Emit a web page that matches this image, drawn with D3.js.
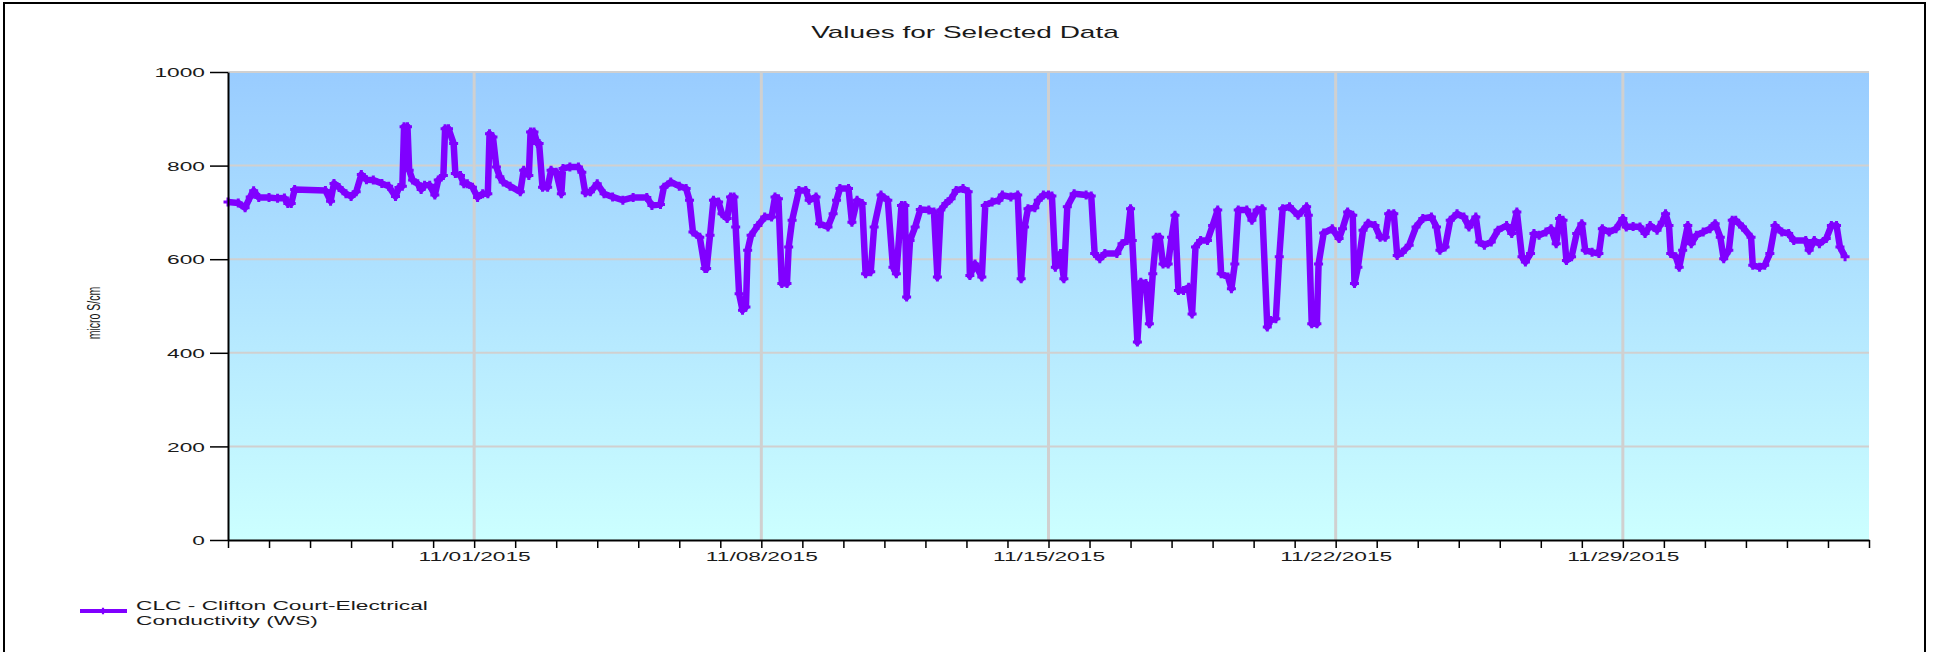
<!DOCTYPE html>
<html>
<head>
<meta charset="utf-8">
<script src="https://cdn.jsdelivr.net/npm/d3@7"></script>
<style>
	body { margin: 0; background: #fff; }
	text { font-family: "Liberation Sans", Arial, sans-serif; fill: #1a1a1a; }
</style>
</head>
<body>
<div id="vis"></div>
<script>
// Chart data
var title = 'Values for Selected Data';
var yLabel = 'micro S/cm';
var seriesName = ['CLC - Clifton Court-Electrical', 'Conductivity (WS)'];
var startDate = Date.UTC(2015, 9, 26);   // 10/26/2015
var endDate = Date.UTC(2015, 11, 5);     // 12/05/2015
var yTicks = [0, 200, 400, 600, 800, 1000];

// hours after 10/26/2015 00:00
var hours = [0, 6, 10, 13, 15, 18, 24, 29, 33, 35, 37, 39, 57, 60, 62, 65, 69, 72, 75, 78, 81, 85, 90, 94, 98, 100, 102, 103, 105, 106, 108, 111, 113, 115, 118, 121, 123, 126, 127, 129, 132, 133, 136, 138, 140, 143, 146, 149, 152, 153, 155, 157,
	159, 161, 165, 171, 173, 176, 177, 179, 181, 182, 184, 187, 189, 192, 195, 196, 200, 205, 207, 209, 212, 216, 220, 225, 231, 237, 245, 248, 253, 255, 259, 264, 268, 270, 272, 276, 279, 280, 282, 284, 287, 289, 292, 294, 296, 297, 299, 301, 303, 304, 306, 310, 314, 318,
	320, 322, 324, 327, 328, 330, 334, 338, 340, 344, 346, 351, 354, 356, 358, 363, 365, 368, 371, 373, 376, 378, 382, 386, 389, 391, 394, 396, 397, 399, 402, 405, 410, 413, 415, 417, 420, 423, 426, 430, 433, 434, 437, 441, 443, 447, 451, 453, 458, 462, 464, 466, 468, 472, 474, 477, 480, 482,
	484, 487, 489, 491, 495, 502, 505, 507, 510, 513, 520, 523, 526, 528, 529, 532, 534, 537, 539, 541, 543, 545, 547, 550, 552, 554, 556, 559, 562, 564, 566, 569, 573, 576, 579, 581, 585, 587, 589, 591, 596, 599, 602, 605, 608, 610, 613, 615, 617, 621, 626, 631, 632, 634, 637, 638, 641,
	646, 650, 652, 655, 658, 659, 661, 664, 667, 671, 674, 677, 679, 682, 684, 687, 691, 695, 699, 704, 707, 709, 712, 715, 719, 723, 726, 730, 732, 735, 739, 743, 748, 751, 754, 757, 759, 762, 764, 767, 771, 774, 777, 779, 781, 783, 786, 789, 792, 794, 798, 802,
	804, 808, 812, 816, 818, 822, 826, 829, 832, 836, 839, 841, 843, 844, 847, 849, 851, 854, 856, 859, 863, 867, 870, 873, 875, 878, 880, 882, 886, 891, 892, 896, 899, 902, 905, 909, 913, 916, 923, 925, 928, 931, 935, 938, 941, 943, 946];

// micro S/cm
var values = [722, 720, 710, 733, 746, 732, 732, 730, 731, 719, 719, 749, 747, 724, 762, 753, 740, 734, 744, 781, 770, 769, 762, 756, 734, 753, 756, 883, 883, 790, 769, 761, 749, 758, 758, 737, 769, 779, 879, 879, 847, 783, 779, 761, 761, 754, 732, 740, 740, 868, 861, 797,
	776, 765, 756, 744, 790, 779, 872, 872, 847, 847, 754, 754, 790, 786, 740, 794, 797, 797, 786, 742, 744, 761, 740, 733, 726, 732, 732, 715, 717, 754, 765, 756, 751, 726, 658, 647, 580, 580, 651, 726, 722, 697, 687, 733, 733, 669, 526, 491, 498, 619, 651, 672, 690, 690,
	733, 729, 548, 548, 626, 683, 747, 747, 726, 733, 676, 669, 697, 726, 751, 751, 679, 726, 719, 569, 573, 669, 737, 726, 583, 569, 715, 715, 519, 640, 669, 706, 705, 701, 562, 705, 719, 729, 747, 751, 744, 565, 590, 562, 715, 722, 726, 737, 733, 737, 558, 669, 708, 710, 726, 737, 737, 735,
	583, 612, 558, 712, 740, 737, 735, 612, 601, 612, 612, 633, 640, 708, 640, 423, 551, 548, 462, 569, 647, 647, 590, 590, 647, 694, 533, 533, 540, 483, 626, 640, 640, 672, 705, 569, 562, 537, 590, 705, 705, 683, 705, 708, 455, 469, 473, 605, 708, 712, 694, 712, 694, 462, 462, 590, 656,
	665, 644, 665, 701, 694, 548, 583, 662, 677, 672, 647, 647, 697, 697, 608, 615, 630, 669, 687, 690, 669, 619, 626, 683, 697, 690, 669, 690, 637, 630, 637, 662, 672, 655, 701, 605, 594, 612, 655, 651, 658, 665, 633, 687, 683, 597, 605, 655, 676, 619, 615, 612,
	665, 658, 665, 687, 669, 670, 669, 655, 672, 662, 679, 697, 672, 612, 605, 583, 619, 672, 633, 651, 658, 665, 676, 647, 601, 619, 683, 683, 669, 647, 587, 583, 587, 612, 672, 658, 655, 640, 640, 619, 640, 633, 644, 672, 672, 626, 605];

var lineColor = '#8000ff';
var textStretch = 1.75;   // the reference text is drawn wide

buildChart();

// Sets a stretched text at a given place
function placeText(sel, x, y, rotate) {
	sel.attr('transform', 'translate(' + x + ',' + y + ') scale(' + textStretch + ',1)' + (rotate ? ' rotate(' + rotate + ')' : ''));
}

function buildChart() {
	var width = 1933, height = 652;
	var margin = {top: 72, right: 64, bottom: 112, left: 228};

	var svg = d3.select('#vis')
		.append('svg')
		.attr('width', width)
		.attr('height', height);

	var defs = svg.append('defs');
	var grad = defs.append('linearGradient')
		.attr('id', 'bg')
		.attr('x1', 0).attr('y1', 0).attr('x2', 0).attr('y2', 1);
	grad.append('stop').attr('offset', '0%').attr('stop-color', '#99ccff');
	grad.append('stop').attr('offset', '100%').attr('stop-color', '#ccffff');

	// outer frame
	svg.append('rect')
		.attr('x', 4).attr('y', 3)
		.attr('width', 1921).attr('height', 660)
		.attr('fill', 'none')
		.attr('stroke', '#000')
		.attr('stroke-width', 2);

	var x = d3.scaleUtc()
		.domain([startDate, endDate])
		.range([margin.left, width - margin.right]);
	var y = d3.scaleLinear()
		.domain([0, 1000])
		.range([height - margin.bottom, margin.top]);

	svg.append('rect')
		.attr('x', margin.left).attr('y', margin.top)
		.attr('width', x.range()[1] - x.range()[0])
		.attr('height', y(0) - y(1000))
		.attr('fill', 'url(#bg)');

	var sundays = d3.utcSunday.range(startDate, endDate);

	// grid
	svg.append('g')
		.selectAll('line')
		.data(yTicks.slice(1))
		.enter()
		.append('line')
		.attr('x1', x.range()[0]).attr('x2', x.range()[1])
		.attr('y1', function(d) { return y(d); })
		.attr('y2', function(d) { return y(d); })
		.attr('stroke', '#d0d0d0')
		.attr('stroke-width', 2);
	svg.append('g')
		.selectAll('line')
		.data(sundays)
		.enter()
		.append('line')
		.attr('x1', function(d) { return x(d); })
		.attr('x2', function(d) { return x(d); })
		.attr('y1', y(1000)).attr('y2', y(0))
		.attr('stroke', '#d0d0d0')
		.attr('stroke-width', 3);

	// series
	var points = hours.map(function(h, i) {
		return {t: startDate + h * 3600000, v: values[i]};
	});
	var line = d3.line()
		.x(function(d) { return x(d.t); })
		.y(function(d) { return y(d.v); });
	svg.append('path')
		.datum(points)
		.attr('d', line)
		.attr('fill', 'none')
		.attr('stroke', lineColor)
		.attr('stroke-width', 6.5)
		.attr('stroke-linejoin', 'round');
	svg.append('g')
		.selectAll('path')
		.data(points)
		.enter()
		.append('path')
		.attr('transform', function(d) { return 'translate(' + x(d.t) + ',' + y(d.v) + ')'; })
		.attr('d', d3.symbol(d3.symbolCross, 45))
		.attr('fill', lineColor);

	// axes
	var yAxis = svg.append('g')
		.attr('transform', 'translate(' + margin.left + ',0)')
		.call(d3.axisLeft(y).tickValues(yTicks).tickFormat(d3.format('d')).tickSize(18).tickSizeOuter(0));
	yAxis.select('.domain').attr('stroke-width', 2);
	yAxis.selectAll('.tick line').attr('stroke-width', 1.5);
	yAxis.selectAll('.tick text')
		.attr('x', 0)
		.attr('dy', '0.36em')
		.style('font-size', '13px')
		.each(function() { placeText(d3.select(this), -23, 0); });

	var xAxis = svg.append('g')
		.attr('transform', 'translate(0,' + y(0) + ')')
		.call(d3.axisBottom(x)
			.ticks(d3.utcDay.every(1))
			.tickSize(8)
			.tickSizeOuter(0)
			.tickFormat(function(d) {
				return d.getUTCDay() === 0 ? d3.utcFormat('%m/%d/%Y')(d) : '';
			}));
	xAxis.select('.domain').attr('stroke-width', 2);
	xAxis.selectAll('.tick line').attr('stroke-width', 1.5);
	xAxis.selectAll('.tick text')
		.attr('y', 0)
		.attr('dy', 0)
		.style('font-size', '13px')
		.each(function() { placeText(d3.select(this), 0, 21); });

	// titles
	svg.append('text')
		.attr('text-anchor', 'middle')
		.style('font-size', '16px')
		.text(title)
		.call(placeText, 965, 38);
	svg.append('text')
		.attr('text-anchor', 'middle')
		.style('font-size', '10.5px')
		.text(yLabel)
		.call(placeText, 100, 313, -90);

	// legend
	var legend = svg.append('g');
	legend.append('line')
		.attr('x1', 80).attr('x2', 127)
		.attr('y1', 611).attr('y2', 611)
		.attr('stroke', lineColor)
		.attr('stroke-width', 4);
	legend.append('path')
		.attr('transform', 'translate(103,611)')
		.attr('d', d3.symbol(d3.symbolCross, 24))
		.attr('fill', lineColor);
	legend.selectAll('text')
		.data(seriesName)
		.enter()
		.append('text')
		.style('font-size', '13px')
		.text(function(d) { return d; })
		.each(function(d, i) { placeText(d3.select(this), 136, 610 + i * 15); });
}
</script>
</body>
</html>
